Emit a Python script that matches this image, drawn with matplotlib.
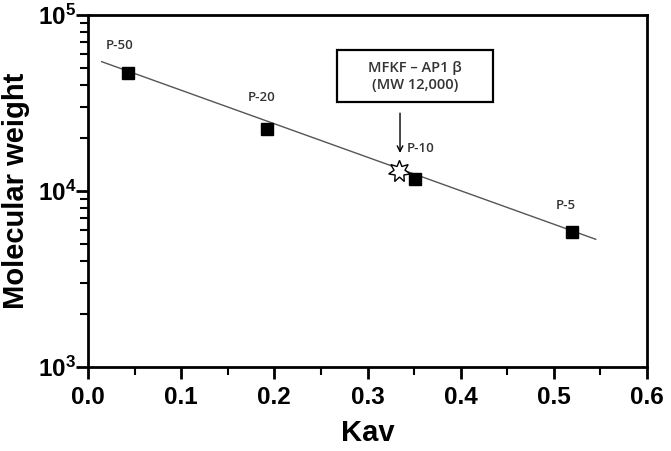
import numpy as np
import matplotlib
matplotlib.use("Agg")
import matplotlib.pyplot as plt
from matplotlib.patches import Rectangle
from matplotlib.ticker import LogLocator, MultipleLocator, NullFormatter

# standards (Kav, MW)
std_names = ["P-50", "P-20", "P-10", "P-5"]
std_kav = [0.043, 0.192, 0.351, 0.520]
std_mw = [46800, 22500, 11650, 5820]

# sample
sample_kav = [0.3335]
sample_mw = [13000]

# fit line end points
fit_kav = [0.0147, 0.545]
fit_mw = [54300, 5316]

# label positions (data coords, left edge of text)
lab_kav = [0.0193, 0.1717, 0.3424, 0.5023]
lab_mw = [66900, 33900, 17330, 8220]

# arrow (Kav, top MW, bottom MW)
arrow_kav = 0.3349
arrow_mw = [27700, 16450]

plt.rcParams["font.family"] = ["Liberation Sans", "DejaVu Sans"]
plt.rcParams["mathtext.default"] = "regular"

fig = plt.figure(figsize=(6.71, 4.51), dpi=100)
ax = fig.add_axes([88 / 671, 1 - 367 / 451, (647 - 88) / 671, (367 - 15) / 451])

ax.plot(fit_kav, fit_mw, color="#555555", lw=1.0, zorder=2)
ax.plot(std_kav, std_mw, "s", color="black", ms=8, zorder=3)
ax.plot(sample_kav, sample_mw, marker=(7, 1, 0), color="white", mec="black",
        mew=1.0, ms=16, ls="none", zorder=4)

for name, x, y in zip(std_names, lab_kav, lab_mw):
    ax.text(x, y, name, fontsize=9.5, color="#333333", fontfamily="Open Sans",
            fontweight="semibold", ha="left", va="center")

# annotation box
ax.add_patch(Rectangle((0.4454, 0.7528), 0.279, 0.1477, transform=ax.transAxes,
                       fc="white", ec="black", lw=1.6, zorder=5))
ax.text(0.585, 0.826, "MFKF \u2013 AP1 \u03b2\n(MW 12,000)", transform=ax.transAxes,
        fontsize=10.5, color="#333333", fontfamily=["Open Sans", "DejaVu Sans"],
        fontweight="semibold", ha="center", va="center", linespacing=1.25, zorder=6)
ax.annotate("", xy=(arrow_kav, arrow_mw[1]), xytext=(arrow_kav, arrow_mw[0]),
            arrowprops=dict(arrowstyle="->", color="black", lw=1.0,
                            shrinkA=0, shrinkB=0))

ax.set_yscale("log")
ax.set_xlim(0, 0.6)
ax.set_ylim(1e3, 1e5)
ax.xaxis.set_major_locator(MultipleLocator(0.1))
ax.xaxis.set_minor_locator(MultipleLocator(0.05))
ax.yaxis.set_major_locator(LogLocator(base=10, numticks=5))
ax.yaxis.set_minor_locator(LogLocator(base=10, subs=np.arange(2, 10), numticks=10))
ax.yaxis.set_minor_formatter(NullFormatter())
ax.xaxis.set_major_formatter(lambda v, p: f"{v:.1f}")

for s in ax.spines.values():
    s.set_linewidth(2.0)
ax.tick_params(which="major", direction="out", length=8.5, width=2, labelsize=17.5,
               top=False, right=False)
ax.tick_params(axis="x", which="major", pad=5)
ax.tick_params(axis="y", which="major", pad=0)
ax.tick_params(which="minor", direction="out", length=5.5, width=1.5,
               top=False, right=False)
for lab in ax.get_xticklabels() + ax.get_yticklabels():
    lab.set_fontweight("bold")

ax.set_xlabel("Kav", fontsize=21, fontweight="bold", va="top")
ax.xaxis.set_label_coords(0.5, -0.148)
ax.set_ylabel("Molecular weight", fontsize=21, fontweight="bold")
ax.yaxis.set_label_coords(-0.104, 0.5)

fig.savefig("out.png", dpi=100)
